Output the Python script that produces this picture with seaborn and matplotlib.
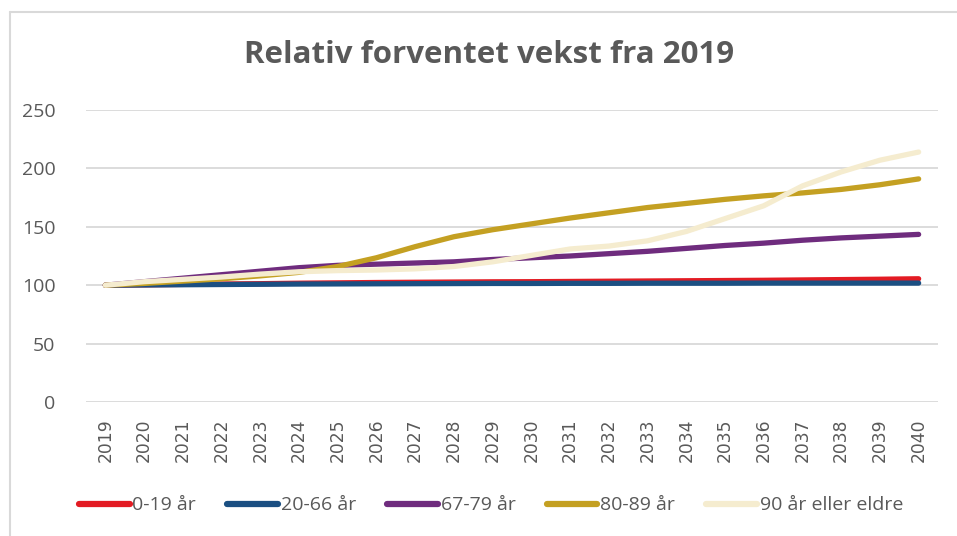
import matplotlib
matplotlib.use("Agg")
import matplotlib.pyplot as plt
import seaborn as sns
import pandas as pd
from matplotlib.lines import Line2D

# years on the x axis (treated as categories)
years = [str(y) for y in range(2019, 2041)]

# index values, 2019 = 100
age_0_19 = [100, 100.3, 100.7, 101, 101.3, 101.7, 102, 102.3, 102.5, 102.7, 102.9,
            103, 103.2, 103.4, 103.6, 103.8, 104, 104.2, 104.5, 104.8, 105.1, 105.5]
age_20_66 = [100, 100.2, 100.4, 100.6, 100.8, 101, 101.1, 101.2, 101.3, 101.4, 101.5,
             101.5, 101.6, 101.6, 101.7, 101.7, 101.7, 101.8, 101.8, 101.8, 101.8, 101.8]
age_67_79 = [100, 103, 106, 109, 112, 115, 117, 118, 119, 120, 122,
             123.5, 125, 127, 129, 131.5, 134, 136, 138.5, 140.5, 142, 143.5]
age_80_89 = [100, 101.5, 103.5, 105.5, 108, 111, 116, 123.5, 133, 141.5, 147.5,
             152.5, 157.5, 162, 166.5, 170, 173.5, 176.5, 179, 182, 186, 191]
age_90_plus = [100, 103, 105, 107, 109.5, 111.5, 112.5, 113, 114, 116, 120,
               125.5, 131, 133.5, 138, 146, 157, 168, 185, 197, 207, 214]

series_names = ["0-19 år", "20-66 år", "67-79 år", "80-89 år", "90 år eller eldre"]
series_values = [age_0_19, age_20_66, age_67_79, age_80_89, age_90_plus]
colors = ["#E31B23", "#1B4F82", "#6F2C7E", "#C4A022", "#F5ECCF"]

rows = []
for name, vals in zip(series_names, series_values):
    for yr, v in zip(years, vals):
        rows.append({"År": yr, "Indeks": v, "Gruppe": name})
df = pd.DataFrame(rows)

sns.set_style("white")
plt.rcParams['font.family'] = ['Open Sans', 'DejaVu Sans']
text_col = "#595959"
grid_col = "#D9D9D9"

fig = plt.figure(figsize=(9.57, 5.36), dpi=100)
ax = fig.add_axes([86/957, (536-402)/536, (938-86)/957, (402-110)/536])

sns.lineplot(data=df, x="År", y="Indeks", hue="Gruppe",
             hue_order=series_names, palette=colors,
             linewidth=3.8, ax=ax, legend=False, sort=False)
for ln in ax.get_lines():
    ln.set_solid_capstyle("round")

ax.set_ylim(0, 250)
ax.set_xlim(-0.5, len(years) - 0.5)
ax.set_yticks([0, 50, 100, 150, 200, 250])
ax.yaxis.grid(True, color=grid_col, linewidth=1.3, zorder=0)
ax.set_axisbelow(True)
for s in ax.spines.values():
    s.set_visible(False)
ax.set_xlabel("")
ax.set_ylabel("")
ax.tick_params(axis="both", length=0, colors=text_col)
ax.tick_params(axis="y", labelsize=14, pad=22)
ax.set_xticks(range(len(years)))
ax.set_xticklabels(years, rotation=90, fontsize=12.3, family="DejaVu Sans")
ax.tick_params(axis="x", pad=12)

fig.text(0.511, 0.897, "Relativ forventet vekst fra 2019", ha="center", va="center",
         fontsize=22.5, fontweight="bold", color=text_col)

handles = [Line2D([0], [0], color=c, linewidth=4.5, solid_capstyle="round") for c in colors]
fig.legend(handles, series_names, loc="center", bbox_to_anchor=(0.513, 0.057),
           ncol=5, frameon=False, fontsize=14, handlelength=2.6,
           handletextpad=0.15, columnspacing=1.6, labelcolor=text_col)

# chart frame (only top and left edges show in the picture)
fig.add_artist(Line2D([10/957, 10/957], [0, 1 - 12/536], color=grid_col, linewidth=1.5))
fig.add_artist(Line2D([10/957, 1], [1 - 12/536, 1 - 12/536], color=grid_col, linewidth=1.5))

fig.savefig("out.png", dpi=100)
